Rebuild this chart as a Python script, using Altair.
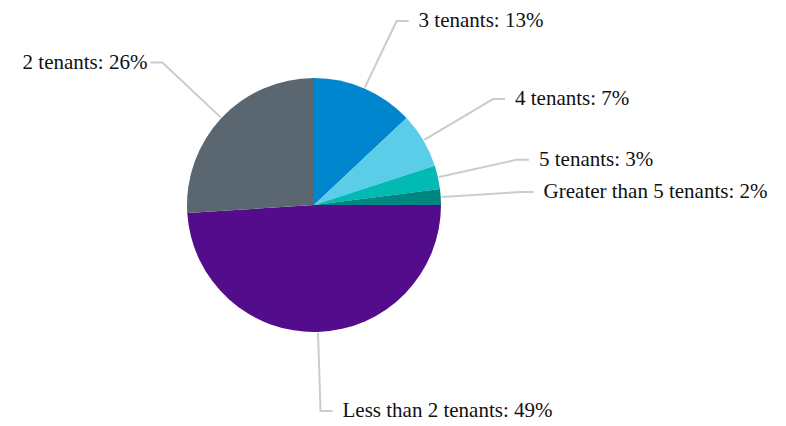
import math
import altair as alt
import pandas as pd

categories = ["3 tenants", "4 tenants", "5 tenants", "Greater than 5 tenants",
              "Less than 2 tenants", "2 tenants"]
values = [13, 7, 3, 2, 49, 26]
colors = ["#0086cf", "#5ccde8", "#00bab3", "#008680", "#520c8c", "#5a6670"]

W, H = 770, 414
CX, CY = 306, 197      # pie centre inside the plot area
R = 127                # pie radius
R_EDGE = 128           # connector start
R_ELBOW = 208          # connector break point
SEG = 12               # horizontal connector length
GAP_R, GAP_L = 22, 15  # label offset from the break point
Y_MIN, Y_MAX = 13, 403  # keep labels inside the drawing

total = sum(values)
rows, line_rows = [], []
cum = 0
for i, (c, v) in enumerate(zip(categories, values)):
    mid = (cum + v / 2) / total * 2 * math.pi
    cum += v
    s, co = math.sin(mid), math.cos(mid)
    right = mid < math.pi
    ex, ey = CX + R_EDGE * s, CY - R_EDGE * co
    bx, by = CX + R_ELBOW * s, CY - R_ELBOW * co
    by = min(max(by, Y_MIN), Y_MAX)
    hx = bx + SEG if right else bx - SEG
    lx = bx + GAP_R if right else bx - GAP_L
    rows.append({"category": c, "value": v, "idx": i,
                 "label": f"{c}: {v}%", "lx": lx, "ly": by,
                 "side": "right" if right else "left"})
    for k, (px, py) in enumerate([(ex, ey), (bx, by), (hx, by)]):
        line_rows.append({"category": c, "pt": k, "px": px, "py": py})

df = pd.DataFrame(rows)
lines = pd.DataFrame(line_rows)

xs = alt.Scale(domain=[0, W], range=[0, W])
ys = alt.Scale(domain=[0, H], range=[0, H])

pie = alt.Chart(df).mark_arc(outerRadius=R).encode(
    theta=alt.Theta("value:Q", stack=True),
    order=alt.Order("idx:Q"),
    color=alt.Color("category:N", scale=alt.Scale(domain=categories, range=colors), legend=None),
    x=alt.value(CX), y=alt.value(CY),
)

conn = alt.Chart(lines).mark_line(color="#cccccc", strokeWidth=2).encode(
    x=alt.X("px:Q", scale=xs, axis=None),
    y=alt.Y("py:Q", scale=ys, axis=None),
    detail="category:N",
    order="pt:Q",
)

common = dict(font="Liberation Serif", fontSize=21, color="#111111", baseline="middle")
lab_r = alt.Chart(df[df.side == "right"]).mark_text(align="left", **common).encode(
    x=alt.X("lx:Q", scale=xs, axis=None), y=alt.Y("ly:Q", scale=ys, axis=None), text="label:N")
lab_l = alt.Chart(df[df.side == "left"]).mark_text(align="right", **common).encode(
    x=alt.X("lx:Q", scale=xs, axis=None), y=alt.Y("ly:Q", scale=ys, axis=None), text="label:N")

chart = alt.layer(conn, pie, lab_r, lab_l).properties(
    width=W, height=H, autosize=alt.AutoSizeParams(type="none"), padding=0,
    background="white",
).configure_view(stroke=None)

chart.save("out.html", embed_options={"renderer": "svg", "actions": False})
